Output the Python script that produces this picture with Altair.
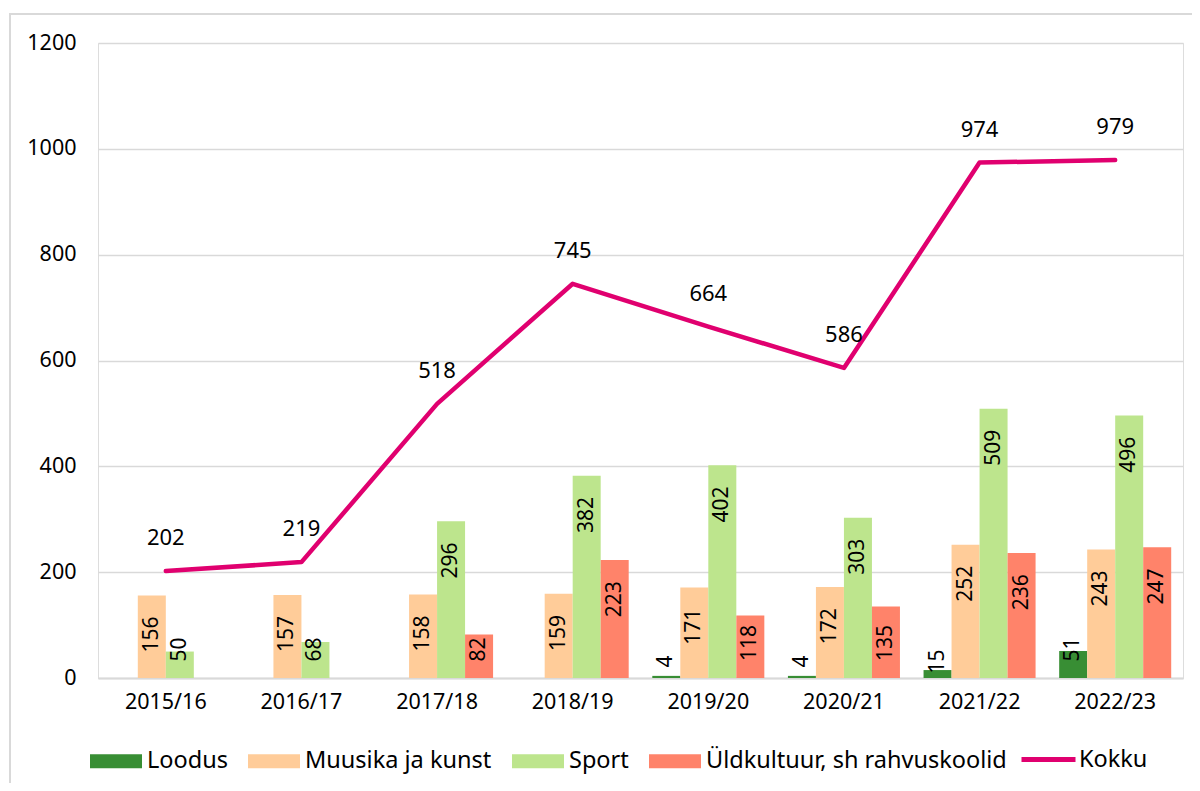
import altair as alt
import pandas as pd

years = ["2015/16", "2016/17", "2017/18", "2018/19", "2019/20", "2020/21", "2021/22", "2022/23"]
series = ["Loodus", "Muusika ja kunst", "Sport", "Üldkultuur, sh rahvuskoolid"]
loodus = [None, None, None, None, 4, 4, 15, 51]
muusika = [156, 157, 158, 159, 171, 172, 252, 243]
sport = [50, 68, 296, 382, 402, 303, 509, 496]
yldkultuur = [None, None, 82, 223, 118, 135, 236, 247]
kokku = [202, 219, 518, 745, 664, 586, 974, 979]
colors = ["#388E34", "#FFCC99", "#BDE58D", "#FF836A"]
line_color = "#E0006F"

rows = []
for name, vals in zip(series, [loodus, muusika, sport, yldkultuur]):
    for y, v in zip(years, vals):
        if v is not None:
            rows.append({"aasta": y, "liik": name, "arv": v})
bars_df = pd.DataFrame(rows)
line_df = pd.DataFrame({"aasta": years, "arv": kokku, "nimi": ["Kokku"] * len(years)})

FONT = "Noto Sans"
W, H = 1085, 635

xscale = alt.Scale(domain=years, paddingInner=0.174, paddingOuter=0.087)
yscale = alt.Scale(domain=[0, 1200], nice=False)

x_axis = alt.Axis(title=None, labelFontSize=21.5, labelColor="#000000", labelFont=FONT,
                  ticks=False, domainColor="#D9D9D9", domainWidth=2, labelPadding=13, labelAngle=0)
y_axis = alt.Axis(title=None, values=[0, 200, 400, 600, 800, 1000, 1200], format="d",
                  labelFontSize=21.5, labelColor="#000000", labelFont=FONT, ticks=False, domain=False,
                  gridColor="#D9D9D9", gridWidth=1.5, labelPadding=22)

base_bar = alt.Chart(bars_df).encode(
    x=alt.X("aasta:N", scale=xscale, axis=x_axis),
    xOffset=alt.XOffset("liik:N", scale=alt.Scale(domain=series, paddingInner=0, paddingOuter=0)),
)

bars = base_bar.mark_bar().encode(
    y=alt.Y("arv:Q", scale=yscale, axis=y_axis),
    fill=alt.Fill("liik:N", scale=alt.Scale(domain=series, range=colors),
                  legend=alt.Legend(title=None, orient="none", legendX=-8, legendY=692,
                                    direction="horizontal", columns=4, labelFontSize=23.5,
                                    labelFont=FONT, labelColor="#000000", labelLimit=600,
                                    symbolType="M-1,-0.27H1V0.27H-1Z", symbolSize=2704,
                                    symbolStrokeWidth=0, labelOffset=5, columnPadding=20,
                                    padding=0, symbolOpacity=1)),
)

bar_labels = base_bar.transform_calculate(
    ly="datum.arv >= 100 ? max(datum.arv - 74, 66) : (datum.arv >= 40 ? 54 : 31)"
).mark_text(angle=270, align="center", baseline="middle", fontSize=21, font=FONT,
            color="#000000").encode(
    y=alt.Y("ly:Q", scale=yscale),
    text=alt.Text("arv:Q"),
)

line = alt.Chart(line_df).mark_line(strokeWidth=4.5, strokeCap="round", strokeJoin="round").encode(
    x=alt.X("aasta:N", scale=xscale),
    y=alt.Y("arv:Q", scale=yscale),
    stroke=alt.Stroke("nimi:N", scale=alt.Scale(domain=["Kokku"], range=[line_color]),
                      legend=alt.Legend(title=None, orient="none", legendX=921, legendY=687,
                                        labelFontSize=23.5, labelFont=FONT, labelColor="#000000",
                                        symbolType="stroke", symbolSize=2916, symbolStrokeWidth=5,
                                        labelOffset=1, padding=0)),
)

line_labels = alt.Chart(line_df).mark_text(dy=-33, fontSize=22, font=FONT, color="#000000").encode(
    x=alt.X("aasta:N", scale=xscale),
    y=alt.Y("arv:Q", scale=yscale),
    text=alt.Text("arv:Q"),
)

border = alt.Chart(line_df).mark_rect(fill=None, stroke="#D9D9D9", strokeWidth=2).encode(
    x=alt.value(-88), x2=alt.value(1120), y=alt.value(-29), y2=alt.value(780)
)

chart = alt.layer(border, bars, bar_labels, line, line_labels).resolve_scale(
    fill="independent", stroke="independent"
).properties(
    width=W, height=H,
    autosize=alt.AutoSizeParams(type="none"),
    padding={"left": 90, "top": 35, "right": 9, "bottom": 105},
).configure_view(stroke=None).configure(background="#FFFFFF")

chart.save("out.html", embed_options={"renderer": "svg", "actions": False})
